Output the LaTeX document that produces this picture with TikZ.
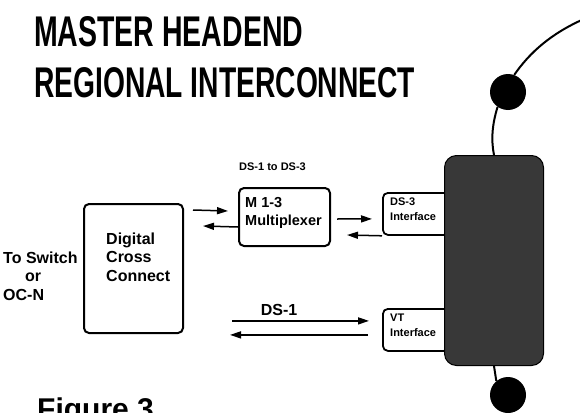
\documentclass[tikz,border=0pt]{standalone}
\usepackage{fontspec}
\setmainfont{Liberation Sans}
\usetikzlibrary{arrows.meta,calc}
\begin{document}
\begin{tikzpicture}[x=1pt,y=-1pt,
  box/.style={draw=black, line width=2pt, rounded corners=5pt, anchor=north west, inner sep=0pt},
  arr/.style={line width=1.5pt, -{Triangle[length=11pt,width=7pt]}},
  lbl/.style={font=\bfseries, align=left, inner sep=0pt},
  fbig/.style={font=\bfseries\fontsize{16}{18.5}\selectfont},
  fmid/.style={font=\bfseries\fontsize{14.5}{18}\selectfont},
  fsmall/.style={font=\bfseries\fontsize{11}{15}\selectfont},
  wire/.style={line width=2pt},
  dot/.style={circle, fill=black, minimum size=36pt, inner sep=0pt},
]
\useasboundingbox (0,0) rectangle (580,412);
\clip (0,0) rectangle (580,412);

% title
\node[anchor=north west, inner sep=0pt] (t1) at (34,16) {\resizebox{269pt}{30pt}{\bfseries MASTER HEADEND}};
\node[anchor=north west, inner sep=0pt] (t2) at (34,67) {\resizebox{381pt}{30pt}{\bfseries REGIONAL INTERCONNECT}};

% boxes
\node[box, minimum width=99pt, minimum height=129pt] (dcc) at (83,203) {};
\node[lbl, fbig, anchor=west] (dcct) at (106,257) {Digital\\Cross\\Connect};
\node[lbl, fbig, anchor=west] (sw) at (3,276) {To Switch\\\hspace{22pt}or\\OC-N};

\node[lbl, fsmall, anchor=west] (lab1) at (239,167) {DS-1 to DS-3};
\node[box, minimum width=91pt, minimum height=58pt] (mux) at (238,187) {};
\node[lbl, fmid, anchor=west] (muxt) at (245,213) {M 1-3\\Multiplexer};

\node[box, line width=1.8pt, minimum width=66pt, minimum height=42pt] (ds3) at (382,192) {};
\node[lbl, fsmall, anchor=west] (ds3t) at (390,209.5) {DS-3\\Interface};
\node[box, line width=1.8pt, minimum width=66pt, minimum height=42pt] (vt) at (382,308) {};
\node[lbl, fsmall, anchor=west] (vtt) at (390,325.5) {VT\\Interface};

% dark box
\node[draw=black, fill=black!78, line width=1pt, rounded corners=12pt, minimum width=99pt, minimum height=210pt, anchor=north west, inner sep=0pt] (sonet) at (444,155) {};

% circles and wires
\node[dot] (c1) at (508,92) {};
\node[dot] (c2) at (508,395) {};
\coordinate (edge) at (584,19);
\draw[wire] (c1.70) .. controls (530,52) and (552,33) .. (edge);
\draw[wire] (c1.235) .. controls (492,125) and (491,140) .. (sonet.north);
\draw[wire] (sonet.south) -- (c2.130);

% arrows
\draw[arr] ($(dcc.north east)+(9,7)$) -- ($(mux.west)+(-10,-6)$);
\draw[arr] ($(mux.west)+(0,10)$) -- ($(dcc.north east)+(19,23)$);
\draw[arr] ($(mux.east)+(6,2)$) -- ($(ds3.west)+(-10,5)$);
\draw[arr] (ds3.south west) -- ($(mux.east)+(16,18)$);
\draw[arr] ($(vt.west)+(-150,-9)$) -- ($(vt.west)+(-13,-9)$);
\draw[arr] ($(vt.west)+(-14,5)$) -- ($(vt.west)+(-152,5)$);
\node[lbl, fbig] (ds1) at (279,310) {DS-1};

% caption
\node[lbl, anchor=north west, font=\bfseries\fontsize{30}{36}\selectfont] (fig) at (37,398) {Figure 3};
\end{tikzpicture}
\end{document}
